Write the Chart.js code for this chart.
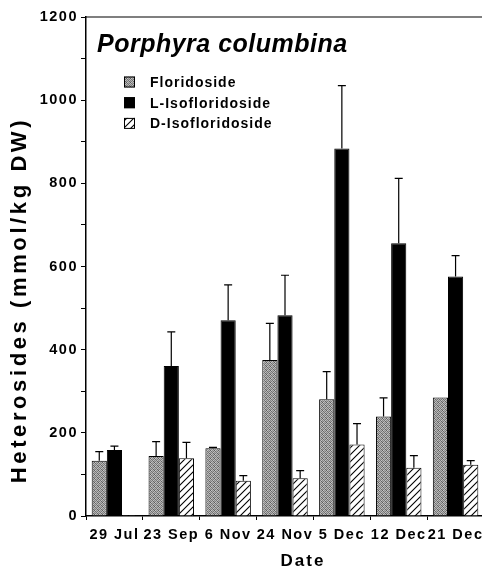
<!DOCTYPE html>
<html>
<head>
<meta charset="utf-8">
<script src="https://cdn.jsdelivr.net/npm/chart.js@4.4.0/dist/chart.umd.min.js"></script>
<style>
    html, body { margin: 0; padding: 0; background: #fff; overflow: hidden; }
</style>
</head>
<body>
<canvas id="myChart" width="490" height="567"></canvas>
<script>
// data (mmol/kg DW), SD = upper error bar length
const dates = ['29 Jul', '23 Sep', '6 Nov', '24 Nov', '5 Dec', '12 Dec', '21 Dec'];
const floridoside = [133, 144, 163, 375, 281, 239, 285];
const floridosideSD = [22, 35, 2, 88, 66, 45, 0];
const lIso = [159, 361, 471, 483, 884, 656, 576];
const lIsoSD = [9, 82, 85, 96, 151, 156, 50];
const dIso = [2, 139, 85, 91, 172, 116, 123];
const dIsoSD = [0, 38, 12, 18, 50, 29, 10];
const yTicks = [0, 200, 400, 600, 800, 1000, 1200];

const FONT = "'Liberation Sans', Arial, sans-serif";

// stippled grey fill
function stipple() {
    const c = document.createElement('canvas');
    c.width = 4; c.height = 4;
    const g = c.getContext('2d');
    const grey = [
        [115, 195, 135, 180],
        [185, 100, 165, 125],
        [145, 180, 90, 200],
        [170, 120, 190, 110]
    ];
    const img = g.createImageData(4, 4);
    for (let y = 0; y < 4; y++) {
        for (let x = 0; x < 4; x++) {
            const i = (y * 4 + x) * 4;
            img.data[i] = img.data[i + 1] = img.data[i + 2] = grey[y][x];
            img.data[i + 3] = 255;
        }
    }
    g.putImageData(img, 0, 0);
    return g.createPattern(c, 'repeat');
}

// "/" hatching
function hatch() {
    const s = 7;
    const c = document.createElement('canvas');
    c.width = s; c.height = s;
    const g = c.getContext('2d');
    g.fillStyle = '#fff';
    g.fillRect(0, 0, s, s);
    g.strokeStyle = '#000';
    g.lineWidth = 1.1;
    g.beginPath();
    g.moveTo(0, s); g.lineTo(s, 0);
    g.moveTo(-1, 1); g.lineTo(1, -1);
    g.moveTo(s - 1, s + 1); g.lineTo(s + 1, s - 1);
    g.stroke();
    return g.createPattern(c, 'repeat');
}

const greyFill = stipple();
const hatchFill = hatch();
const sds = [floridosideSD, lIsoSD, dIsoSD];

const spacing = {
    id: 'spacing',
    beforeUpdate(chart) { chart.ctx.letterSpacing = '1.5px'; },
    beforeDraw(chart) { chart.ctx.letterSpacing = '1.5px'; }
};

const errorBars = {
    id: 'errorBars',
    afterDatasetsDraw(chart) {
        const ctx = chart.ctx;
        const y = chart.scales.y;
        ctx.save();
        ctx.strokeStyle = '#000';
        ctx.lineWidth = 1.2;
        chart.data.datasets.forEach((ds, i) => {
            chart.getDatasetMeta(i).data.forEach((bar, j) => {
                const sd = sds[i][j];
                if (!sd) return;
                const top = y.getPixelForValue(ds.data[j] + sd);
                ctx.beginPath();
                ctx.moveTo(bar.x, bar.y);
                ctx.lineTo(bar.x, top);
                ctx.moveTo(bar.x - 4, top);
                ctx.lineTo(bar.x + 4, top);
                ctx.stroke();
            });
        });
        ctx.restore();
    }
};

const decorations = {
    id: 'decorations',
    afterDraw(chart) {
        const ctx = chart.ctx;
        const a = chart.chartArea;
        ctx.save();
        // top frame line at 1200
        ctx.strokeStyle = '#000';
        ctx.lineWidth = 1.2;
        ctx.beginPath();
        ctx.moveTo(a.left, a.top);
        ctx.lineTo(a.right, a.top);
        ctx.stroke();

        ctx.fillStyle = '#000';
        // species name
        ctx.letterSpacing = '0.5px';
        ctx.font = 'italic bold 25px ' + FONT;
        ctx.textAlign = 'left';
        ctx.textBaseline = 'alphabetic';
        ctx.fillText('Porphyra columbina', 97, 52);

        // legend
        const items = [
            ['Floridoside', greyFill],
            ['L-Isofloridoside', '#000'],
            ['D-Isofloridoside', hatchFill]
        ];
        ctx.letterSpacing = '1px';
        ctx.font = 'bold 14px ' + FONT;
        ctx.textBaseline = 'middle';
        items.forEach((it, k) => {
            const cy = 82 + k * 20.7;
            ctx.fillStyle = it[1];
            ctx.fillRect(124, cy - 5.5, 11, 11);
            ctx.strokeStyle = '#000';
            ctx.lineWidth = 1;
            ctx.strokeRect(124.5, cy - 5, 10, 10);
            ctx.fillStyle = '#000';
            ctx.fillText(it[0], 150, cy + 1);
        });

        // y axis title
        ctx.save();
        ctx.translate(20, 300);
        ctx.rotate(-Math.PI / 2);
        ctx.letterSpacing = '3.6px';
        ctx.font = 'bold 22px ' + FONT;
        ctx.textAlign = 'center';
        ctx.textBaseline = 'middle';
        ctx.fillText('Heterosides (mmol/kg DW)', 0, 0);
        ctx.restore();

        // x axis title
        ctx.letterSpacing = '2px';
        ctx.font = 'bold 17px ' + FONT;
        ctx.textAlign = 'center';
        ctx.textBaseline = 'alphabetic';
        ctx.fillText('Date', 303, 566);
        ctx.restore();
    }
};

const data = {
    labels: dates,
    datasets: [
        { label: 'Floridoside', data: floridoside, backgroundColor: greyFill },
        { label: 'L-Isofloridoside', data: lIso, backgroundColor: '#000' },
        { label: 'D-Isofloridoside', data: dIso, backgroundColor: hatchFill }
    ]
};

const tickFont = { family: FONT, weight: 'bold', size: 14.5 };

const config = {
    type: 'bar',
    data: data,
    options: {
        responsive: false,
        animation: false,
        layout: { padding: { left: 0, right: 6, top: 17, bottom: 0 } },
        datasets: {
            bar: { categoryPercentage: 0.8, barPercentage: 1.0, borderColor: '#000', borderWidth: 1 }
        },
        plugins: {
            legend: { display: false },
            tooltip: { enabled: false }
        },
        scales: {
            x: {
                grid: { drawOnChartArea: false, drawTicks: true, tickLength: 4, color: '#000', offset: true },
                border: { color: '#000', width: 1.5 },
                ticks: { color: '#000', font: tickFont, padding: 6, maxRotation: 0, autoSkip: false },
                afterFit: (s) => { s.height = 51; }
            },
            y: {
                min: 0,
                max: 1200,
                grid: { drawOnChartArea: false, tickLength: 5, color: '#000' },
                border: { color: '#000', width: 1.5 },
                ticks: {
                    stepSize: 100,
                    maxTicksLimit: 20,
                    autoSkip: false,
                    color: '#000',
                    font: tickFont,
                    padding: 3,
                    callback: (v) => yTicks.includes(v) ? v : ''
                },
                afterFit: (s) => { s.width = 86; }
            }
        }
    },
    plugins: [spacing, errorBars, decorations]
};

const myChart = new Chart(document.getElementById('myChart'), config);
</script>
</body>
</html>
